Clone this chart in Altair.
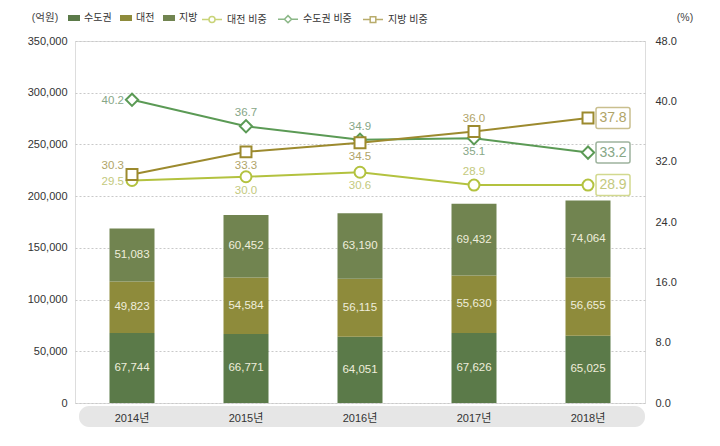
import altair as alt
import pandas as pd

# ---------------- data ----------------
years = ["2014년", "2015년", "2016년", "2017년", "2018년"]

bar_series = ["수도권", "대전", "지방"]
capital = [67744, 66771, 64051, 67626, 65025]
daejeon = [49823, 54584, 56115, 55630, 56655]
region = [51083, 60452, 63190, 69432, 74064]

line_series = ["대전 비중", "수도권 비중", "지방 비중"]
share_daejeon = [29.5, 30.0, 30.6, 28.9, 28.9]
share_capital = [40.2, 36.7, 34.9, 35.1, 33.2]
share_region = [30.3, 33.3, 34.5, 36.0, 37.8]

left_ticks = [0, 50000, 100000, 150000, 200000, 250000, 300000, 350000]
right_ticks = [0, 8, 16, 24, 32, 40, 48]
unit_left = "(억원)"
unit_right = "(%)"

# ---------------- style ----------------
bar_colors = ["#5b7a49", "#8e8b3b", "#718450"]
line_colors = ["#b3c23f", "#5b9a55", "#9c8a2e"]
label_colors = ["#c3c97d", "#87a787", "#b0a468"]
box_colors = ["#d2d98f", "#9db39d", "#c9bf8e"]
marker_shapes = ["circle", "diamond", "square"]
label_place = [
    ["left", "below", "below", "above", "box"],
    ["left", "above", "above", "below", "box"],
    ["leftup", "below", "below", "above", "box"],
]
FONT = "Liberation Sans Narrow, Liberation Sans, Noto Sans CJK KR, sans-serif"
TICK_FS = 11

W, H = 570, 362

# ---------------- tables ----------------
bar_rows = []
for i, y in enumerate(years):
    cum = 0
    for k, (s, vals) in enumerate(zip(bar_series, [capital, daejeon, region])):
        v = vals[i]
        bar_rows.append({"year": y, "series": s, "value": v, "ord": k, "mid": cum + v / 2})
        cum += v
bar_df = pd.DataFrame(bar_rows)

line_rows = []
for s, vals, places in zip(line_series, [share_daejeon, share_capital, share_region], label_place):
    for y, v, p in zip(years, vals, places):
        line_rows.append({"year": y, "series": s, "share": v, "place": p})
line_df = pd.DataFrame(line_rows)

# ---------------- scales / axes ----------------
x_enc = alt.X(
    "year:N", sort=years,
    axis=alt.Axis(title=None, ticks=False, domain=False, labelAngle=0, labelPadding=9,
                  labelFont=FONT, labelFontSize=TICK_FS, labelColor="#333", zindex=1),
)
left_scale = alt.Scale(domain=[0, 350000])
left_axis = alt.Axis(
    values=left_ticks, format=",d", title=None, labelPadding=8, ticks=False, domain=False,
    grid=True, gridDash=[2, 2], gridColor="#c9c9c9", labelFont=FONT, labelFontSize=TICK_FS,
    labelColor="#333",
)
right_scale = alt.Scale(domain=[0, 48])
right_axis = alt.Axis(
    orient="right", values=right_ticks, format=".1f", title=None, labelPadding=10,
    ticks=False, domain=False, grid=False, labelFont=FONT, labelFontSize=TICK_FS,
    labelColor="#333",
)

rect_path = "M-1,-0.5L1,-0.5L1,0.5L-1,0.5Z"
bar_legend = alt.Legend(
    title=None, orient="none", legendX=-7, legendY=-29, direction="horizontal",
    symbolType=rect_path, symbolSize=144, symbolStrokeWidth=0, labelFont=FONT,
    labelFontSize=10, labelColor="#333", columnPadding=8, labelOffset=4, padding=0,
)
legend_paths = [
    "M-1,0L-0.3,0M0.3,0L1,0M-0.3,0A0.3,0.3 0 1,0 0.3,0A0.3,0.3 0 1,0 -0.3,0Z",
    "M-1,0L-0.36,0M0.36,0L1,0M-0.36,0L0,-0.36L0.36,0L0,0.36Z",
    "M-1,0L-0.28,0M0.28,0L1,0M-0.28,-0.28L0.28,-0.28L0.28,0.28L-0.28,0.28Z",
]
line_legend = alt.Legend(
    title=None, orient="none", legendX=126, legendY=-33, direction="horizontal",
    symbolSize=400, symbolStrokeWidth=1.5, symbolFillColor="white", labelFont=FONT,
    labelFontSize=10, labelColor="#333", columnPadding=8, labelOffset=4, padding=0,
)
stroke_scale = alt.Scale(domain=line_series, range=line_colors)

one = pd.DataFrame({"a": [0]})

# ---------------- left (bars) ----------------
band = alt.Chart(one).mark_rect(color="#e6e6e6", cornerRadius=10).encode(
    x=alt.value(4), x2=alt.value(W), y=alt.value(H + 3), y2=alt.value(H + 24)
)
title_left = alt.Chart(one).mark_text(
    text=unit_left, font=FONT, fontSize=10.5, color="#444", align="center", baseline="middle"
).encode(x=alt.value(-30), y=alt.value(-23))
title_right = alt.Chart(one).mark_text(
    text=unit_right, font=FONT, fontSize=10.5, color="#444", align="center", baseline="middle"
).encode(x=alt.value(W + 40), y=alt.value(-23))

bars = alt.Chart(bar_df).mark_bar(size=45).encode(
    x=x_enc,
    y=alt.Y("value:Q", stack="zero", scale=left_scale, axis=left_axis),
    color=alt.Color("series:N", scale=alt.Scale(domain=bar_series, range=bar_colors),
                    legend=bar_legend),
    order=alt.Order("ord:Q"),
)
bar_labels = alt.Chart(bar_df).mark_text(
    font=FONT, fontSize=11.5, color="#efeedc", baseline="middle"
).encode(
    x=alt.X("year:N", sort=years),
    y=alt.Y("mid:Q", scale=left_scale),
    text=alt.Text("value:Q", format=",d"),
)
left = alt.layer(band, bars, bar_labels, title_left, title_right)

# ---------------- right (lines) ----------------
lines = alt.Chart(line_df).mark_line(strokeWidth=2).encode(
    x=alt.X("year:N", sort=years),
    y=alt.Y("share:Q", scale=right_scale, axis=right_axis),
    stroke=alt.Stroke("series:N", scale=stroke_scale, legend=line_legend),
)
legend_layer = alt.Chart(line_df).mark_point(filled=False, strokeWidth=1.5).encode(
    x=alt.X("year:N", sort=years),
    y=alt.Y("share:Q", scale=right_scale),
    stroke=alt.Stroke("series:N", scale=stroke_scale, legend=line_legend),
    shape=alt.Shape("series:N", scale=alt.Scale(domain=line_series, range=legend_paths),
                    legend=line_legend),
    opacity=alt.Opacity("share:Q", scale=alt.Scale(range=[0, 0]), legend=None),
)

box_path = ("M-0.75,-0.525L0.75,-0.525Q0.85,-0.525 0.85,-0.425L0.85,0.425"
            "Q0.85,0.525 0.75,0.525L-0.75,0.525Q-0.85,0.525 -0.85,0.425"
            "L-0.85,-0.425Q-0.85,-0.525 -0.75,-0.525Z")

placements = {
    "above": dict(dx=0, dy=-13, align="center"),
    "below": dict(dx=0, dy=14, align="center"),
    "left": dict(dx=-8, dy=1, align="right"),
    "leftup": dict(dx=-8, dy=-8, align="right"),
}

right_layers = [lines, legend_layer]
for s, shp, lc, tc, bc in zip(line_series, marker_shapes, line_colors, label_colors, box_colors):
    base = alt.Chart(line_df).transform_filter(alt.datum.series == s)
    enc = dict(x=alt.X("year:N", sort=years), y=alt.Y("share:Q", scale=right_scale))
    right_layers.append(
        base.mark_point(shape=shp, filled=True, fill="white", stroke=lc, strokeWidth=2,
                        size=120 if shp != "diamond" else 150, opacity=1).encode(**enc)
    )
    for pname, p in placements.items():
        right_layers.append(
            base.transform_filter(alt.datum.place == pname).mark_text(
                font=FONT, fontSize=11.5, color=tc, baseline="middle", **p
            ).encode(text=alt.Text("share:Q", format=".1f"), **enc)
        )
    boxed = base.transform_filter(alt.datum.place == "box")
    right_layers.append(
        boxed.mark_point(shape=box_path, size=1600, filled=True, fill="white", stroke=bc,
                         strokeWidth=1.5, xOffset=25, opacity=1).encode(**enc)
    )
    right_layers.append(
        boxed.mark_text(font=FONT, fontSize=14, color=tc, baseline="middle", align="center",
                        dx=25).encode(text=alt.Text("share:Q", format=".1f"), **enc)
    )

right = alt.layer(*right_layers)

chart = alt.layer(left, right).resolve_scale(y="independent").properties(
    width=W, height=H,
    autosize=alt.AutoSizeParams(type="none"),
    padding={"left": 67, "top": 33, "right": 60, "bottom": 30},
).configure_view(stroke=None).configure(background="white")

chart.save("out.html", embed_options={"renderer": "svg", "actions": False})
